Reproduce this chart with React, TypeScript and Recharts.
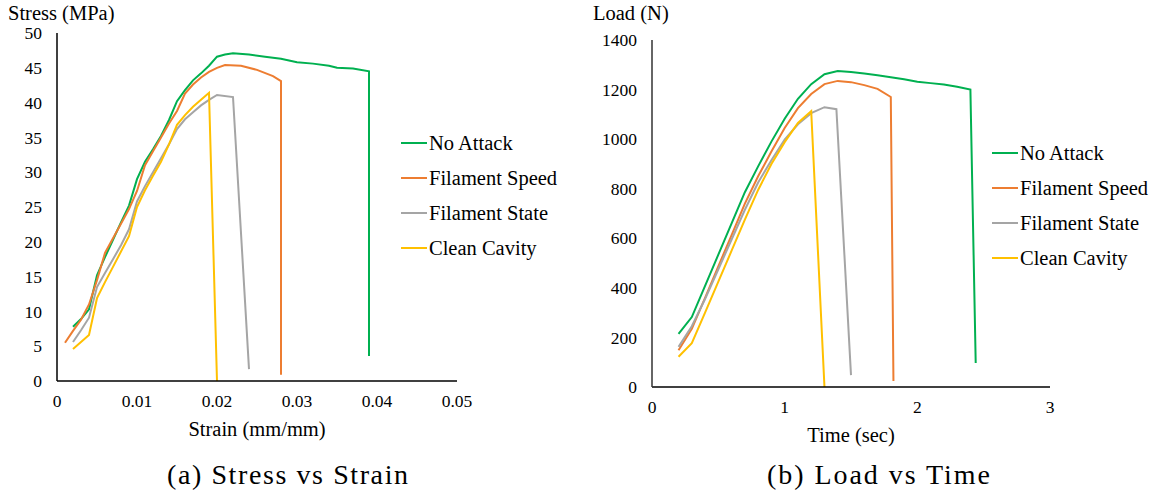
import { LineChart, Line, XAxis, YAxis, Legend } from 'recharts';

// Stress vs strain
const noAttackStrain = [0.002, 0.003, 0.004, 0.005, 0.006, 0.007, 0.008, 0.009, 0.01, 0.011, 0.012, 0.013, 0.014, 0.015, 0.016, 0.017, 0.018, 0.019, 0.02, 0.021, 0.022, 0.024, 0.026, 0.028, 0.03, 0.032, 0.034, 0.035, 0.037, 0.039, 0.039];
const noAttackStress = [7.8, 8.9, 10.3, 15.2, 17.8, 20.3, 22.8, 25.2, 29.0, 31.5, 33.3, 35.2, 37.5, 40.2, 41.8, 43.2, 44.2, 45.3, 46.6, 46.9, 47.1, 46.9, 46.6, 46.3, 45.8, 45.6, 45.3, 45.0, 44.9, 44.5, 3.6];

const speedStrain = [0.001, 0.002, 0.003, 0.004, 0.005, 0.006, 0.007, 0.008, 0.009, 0.01, 0.011, 0.012, 0.013, 0.014, 0.015, 0.016, 0.017, 0.018, 0.019, 0.02, 0.021, 0.023, 0.025, 0.027, 0.028, 0.028];
const speedStress = [5.5, 7.2, 8.8, 11.0, 14.5, 18.4, 20.5, 22.6, 24.7, 27.3, 31.0, 33.0, 35.0, 37.0, 38.8, 41.3, 42.6, 43.6, 44.4, 45.0, 45.4, 45.3, 44.7, 43.8, 43.1, 0.9];

const stateStrain = [0.002, 0.003, 0.004, 0.005, 0.006, 0.007, 0.008, 0.009, 0.01, 0.011, 0.012, 0.013, 0.014, 0.015, 0.016, 0.017, 0.018, 0.019, 0.02, 0.022, 0.024];
const stateStress = [5.6, 7.3, 9.1, 13.5, 15.5, 17.5, 19.5, 21.8, 25.8, 28.0, 30.0, 32.0, 34.0, 36.2, 37.6, 38.6, 39.6, 40.4, 41.1, 40.8, 1.7];

const cavityStrain = [0.002, 0.003, 0.004, 0.005, 0.006, 0.007, 0.008, 0.009, 0.01, 0.011, 0.012, 0.013, 0.014, 0.015, 0.016, 0.017, 0.018, 0.019, 0.02];
const cavityStress = [4.6, 5.6, 6.6, 11.9, 14.2, 16.4, 18.6, 20.8, 25.0, 27.4, 29.5, 31.5, 34.0, 36.8, 38.2, 39.4, 40.4, 41.4, 0];

// Load vs time
const noAttackTime = [0.2, 0.3, 0.4, 0.5, 0.6, 0.7, 0.8, 0.9, 1.0, 1.1, 1.2, 1.3, 1.4, 1.5, 1.6, 1.7, 1.8, 1.9, 2.0, 2.1, 2.2, 2.3, 2.4, 2.44];
const noAttackLoad = [214, 282, 408, 534, 660, 786, 890, 990, 1082, 1163, 1222, 1262, 1275, 1271, 1265, 1258, 1250, 1242, 1232, 1226, 1220, 1211, 1200, 97];

const speedTime = [0.2, 0.3, 0.4, 0.5, 0.6, 0.7, 0.8, 0.9, 1.0, 1.1, 1.2, 1.3, 1.4, 1.5, 1.6, 1.7, 1.8, 1.82];
const speedLoad = [148, 235, 360, 487, 613, 740, 850, 950, 1045, 1125, 1182, 1222, 1235, 1230, 1218, 1203, 1170, 24];

const stateTime = [0.2, 0.3, 0.4, 0.5, 0.6, 0.7, 0.8, 0.9, 1.0, 1.1, 1.2, 1.3, 1.39, 1.5];
const stateLoad = [162, 245, 355, 475, 595, 715, 825, 915, 998, 1060, 1105, 1129, 1121, 48];

const cavityTime = [0.2, 0.3, 0.4, 0.5, 0.6, 0.7, 0.8, 0.9, 1.0, 1.1, 1.2, 1.3];
const cavityLoad = [122, 177, 300, 425, 550, 675, 795, 900, 988, 1065, 1113, 0];

const strainTicks = [0, 0.01, 0.02, 0.03, 0.04, 0.05];
const stressTicks = [0, 5, 10, 15, 20, 25, 30, 35, 40, 45, 50];
const timeTicks = [0, 1, 2, 3];
const loadTicks = [0, 200, 400, 600, 800, 1000, 1200, 1400];

const FONT = "'Liberation Serif', 'Times New Roman', serif";

const zip = (xs: number[], ys: number[]) => xs.map((x, i) => ({ x, y: ys[i] }));

const stressSeries = [
  { name: 'No Attack', color: '#00B050', data: zip(noAttackStrain, noAttackStress) },
  { name: 'Filament Speed', color: '#ED7D31', data: zip(speedStrain, speedStress) },
  { name: 'Filament State', color: '#A5A5A5', data: zip(stateStrain, stateStress) },
  { name: 'Clean Cavity', color: '#FFC000', data: zip(cavityStrain, cavityStress) },
];

const loadSeries = [
  { name: 'No Attack', color: '#00B050', data: zip(noAttackTime, noAttackLoad) },
  { name: 'Filament Speed', color: '#ED7D31', data: zip(speedTime, speedLoad) },
  { name: 'Filament State', color: '#A5A5A5', data: zip(stateTime, stateLoad) },
  { name: 'Clean Cavity', color: '#FFC000', data: zip(cavityTime, cavityLoad) },
];

type Series = typeof stressSeries;

function LegendBox({ series }: { series: Series }) {
  return (
    <div style={{ fontFamily: FONT, fontSize: 20.5, color: '#000' }}>
      {series.map(s => (
        <div key={s.name} style={{ height: 35, display: 'flex', alignItems: 'center', whiteSpace: 'nowrap' }}>
          <span style={{ display: 'inline-block', width: 26, height: 2, background: s.color, marginRight: 2 }} />
          <span>{s.name}</span>
        </div>
      ))}
    </div>
  );
}

const tickStyle = { fontFamily: FONT, fontSize: 17.5, fill: '#000' };

interface PanelProps {
  series: Series;
  width: number;
  height: number;
  margin: { top: number; right: number; bottom: number; left: number };
  yWidth: number;
  xDomain: [number, number];
  xTicks: number[];
  yDomain: [number, number];
  yTicks: number[];
  xTitle: string;
  yAxisColor: string;
  legendPos: { left: number; top: number };
}

function Panel(p: PanelProps) {
  return (
    <LineChart width={p.width} height={p.height} margin={p.margin}>
      <XAxis
        type="number"
        dataKey="x"
        domain={p.xDomain}
        ticks={p.xTicks}
        interval={0}
        allowDataOverflow
        tickLine={false}
        tickSize={0}
        tickMargin={14}
        height={60}
        axisLine={{ stroke: '#000', strokeWidth: 1.5 }}
        tick={tickStyle}
        label={{ value: p.xTitle, position: 'insideBottom', offset: 5, style: { fontFamily: FONT, fontSize: 20.5, fill: '#000' } }}
      />
      <YAxis
        type="number"
        dataKey="y"
        domain={p.yDomain}
        ticks={p.yTicks}
        interval={0}
        allowDataOverflow
        width={p.yWidth}
        tickLine={false}
        tickSize={0}
        tickMargin={15}
        axisLine={{ stroke: p.yAxisColor, strokeWidth: 1.5 }}
        tick={tickStyle}
      />
      <Legend
        layout="vertical"
        align="center"
        verticalAlign="middle"
        wrapperStyle={{ left: p.legendPos.left, top: p.legendPos.top, width: 'auto' }}
        content={() => <LegendBox series={p.series} />}
      />
      {p.series.map(s => (
        <Line
          key={s.name}
          data={s.data}
          dataKey="y"
          name={s.name}
          type="linear"
          stroke={s.color}
          strokeWidth={2}
          dot={false}
          activeDot={false}
          isAnimationActive={false}
        />
      ))}
    </LineChart>
  );
}

export default function App() {
  return (
    <div style={{ position: 'fixed', left: 0, top: 0, width: 1157, height: 498, background: '#fff', overflow: 'hidden' }}>
      <div style={{ position: 'absolute', left: 0, top: 0 }}>
        <Panel
          series={stressSeries}
          width={575}
          height={450}
          margin={{ top: 33, right: 118, bottom: 9, left: 0 }}
          yWidth={57}
          xDomain={[0, 0.05]}
          xTicks={strainTicks}
          yDomain={[0, 50]}
          yTicks={stressTicks}
          xTitle="Strain (mm/mm)"
          yAxisColor="#000"
          legendPos={{ left: 401, top: 125.5 }}
        />
      </div>
      <div style={{ position: 'absolute', left: 580, top: 0 }}>
        <Panel
          series={loadSeries}
          width={577}
          height={450}
          margin={{ top: 40, right: 107, bottom: 3, left: 0 }}
          yWidth={72}
          xDomain={[0, 3]}
          xTicks={timeTicks}
          yDomain={[0, 1400]}
          yTicks={loadTicks}
          xTitle="Time (sec)"
          yAxisColor="#333"
          legendPos={{ left: 412, top: 135.5 }}
        />
      </div>
      <svg width={1157} height={498} style={{ position: 'absolute', left: 0, top: 0, pointerEvents: 'none' }}>
        <text x={8} y={20} fontFamily={FONT} fontSize={20.5} fill="#000">Stress (MPa)</text>
        <text x={593} y={20} fontFamily={FONT} fontSize={20.5} fill="#000">Load (N)</text>
        <text x={167} y={484} fontFamily={FONT} fontSize={28} fill="#000" textLength={241} lengthAdjust="spacing">(a) Stress vs Strain</text>
        <text x={767} y={484} fontFamily={FONT} fontSize={28} fill="#000" textLength={223} lengthAdjust="spacing">(b) Load vs Time</text>
      </svg>
    </div>
  );
}
